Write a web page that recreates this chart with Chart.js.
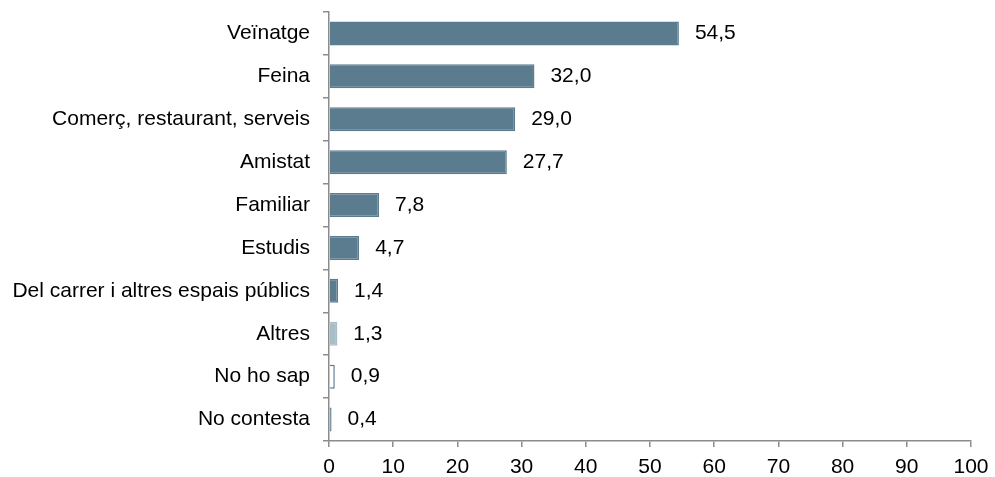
<!DOCTYPE html>
<html>
<head>
<meta charset="utf-8">
<script src="https://cdn.jsdelivr.net/npm/chart.js@4/dist/chart.umd.min.js"></script>
<style>
  body { margin: 0; background: #fff; }
  canvas { display: block; }
</style>
</head>
<body>
<canvas id="canvas" width="995" height="477"></canvas>
<script>
let categories = ['Veïnatge', 'Feina', 'Comerç, restaurant, serveis', 'Amistat', 'Familiar',
  'Estudis', 'Del carrer i altres espais públics', 'Altres', 'No ho sap', 'No contesta'];
let values = [54.5, 32.0, 29.0, 27.7, 7.8, 4.7, 1.4, 1.3, 0.9, 0.4];
let xTicks = [0, 10, 20, 30, 40, 50, 60, 70, 80, 90, 100];

let dark = '#5b7b8e';
let light = '#a9bcc8';
let fills = [dark, dark, dark, dark, dark, dark, dark, light, '#ffffff', dark];
let borders = [dark, dark, dark, dark, dark, dark, dark, light, dark, dark];

let axisColor = '#8c8c8c';
let font = { family: '"Liberation Sans", Arial, sans-serif', size: 21 };

// writes "54,5" style labels just past the end of each bar
let valueLabels = {
  id: 'valueLabels',
  afterDatasetsDraw(chart) {
    let ctx = chart.ctx;
    let meta = chart.getDatasetMeta(0);
    let xs = chart.scales.x;
    ctx.save();
    ctx.font = font.size + 'px ' + font.family;
    ctx.fillStyle = '#000';
    ctx.textAlign = 'left';
    ctx.textBaseline = 'middle';
    meta.data.forEach(function(bar, i) {
      let v = values[i];
      ctx.fillText(v.toFixed(1).replace('.', ','), xs.getPixelForValue(v) + 16, bar.y);
    });
    ctx.restore();
  }
};

let ctx = document.getElementById('canvas').getContext('2d');
let chart = new Chart(ctx, {
  type: 'bar',
  data: {
    labels: categories,
    datasets: [{
      data: values,
      backgroundColor: fills,
      borderColor: borders,
      borderWidth: 1.5,
      barPercentage: 0.56,
      categoryPercentage: 1
    }]
  },
  options: {
    indexAxis: 'y',
    responsive: false,
    animation: false,
    layout: { padding: { top: 12, right: 24, left: 0, bottom: 0 } },
    plugins: { legend: { display: false }, tooltip: { enabled: false } },
    scales: {
      x: {
        min: 0,
        max: 100,
        afterBuildTicks: function(scale) {
          scale.ticks = xTicks.map(function(v) { return { value: v }; });
        },
        afterFit: function(scale) {
          scale.height = 36;
          scale.paddingLeft = 0;
          scale.paddingRight = 0;
        },
        border: { color: axisColor, width: 1.5 },
        grid: { drawOnChartArea: false, color: axisColor, tickLength: 6, lineWidth: 1.5 },
        ticks: { color: '#000', font: font, padding: 8, maxRotation: 0 }
      },
      y: {
        afterFit: function(scale) {
          scale.width = 329;
          // labels sit between ticks, no extra room needed above/below
          scale.paddingTop = 0;
          scale.paddingBottom = 0;
        },
        border: { color: axisColor, width: 1.5 },
        grid: { drawOnChartArea: false, color: axisColor, tickLength: 6, lineWidth: 1.5, offset: true },
        ticks: { color: '#000', font: font, padding: 13, autoSkip: false }
      }
    }
  },
  plugins: [valueLabels]
});
</script>
</body>
</html>
